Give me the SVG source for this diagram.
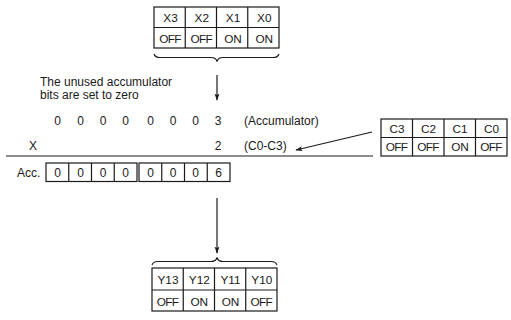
<svg xmlns="http://www.w3.org/2000/svg" width="511" height="320" viewBox="0 0 511 320">
<defs>
<style>
text{font-family:"Liberation Sans",Arial,sans-serif;font-size:12px;fill:#1a1a1a}
.c{text-anchor:middle}
.t{font-size:11.8px;text-anchor:middle}
.o{letter-spacing:-0.7px}
.box{fill:#fff;stroke:#1a1a1a;stroke-width:1.2}
.ln{fill:none;stroke:#1a1a1a;stroke-width:1.2}
.br{fill:none;stroke:#1a1a1a;stroke-width:1.1}
</style>
<marker id="ah" viewBox="0 0 10 10" refX="9" refY="5" markerWidth="7" markerHeight="7" markerUnits="userSpaceOnUse" orient="auto">
<path d="M0,1.5 L10,5 L0,8.5 L2,5 Z" fill="#1a1a1a"/>
</marker>
</defs>
<rect width="511" height="320" fill="#fff"/>

<g id="x-table">
<rect class="box" x="154" y="7" width="125" height="41"/>
<path class="ln" d="M154,27.5H279M185.25,7V48M216.5,7V48M247.75,7V48"/>
<text class="t" x="170.5" y="22">X3</text>
<text class="t" x="201.8" y="22">X2</text>
<text class="t" x="233" y="22">X1</text>
<text class="t" x="264.3" y="22">X0</text>
<text class="t o" x="170" y="43">OFF</text>
<text class="t o" x="201.3" y="43">OFF</text>
<text class="t" x="233" y="43">ON</text>
<text class="t" x="264.3" y="43">ON</text>
<path class="br" d="M154,54 Q155,57.5 160,57.5 L211,57.5 Q216,57.5 217,61.5 Q218,57.5 223,57.5 L273,57.5 Q278,57.5 279,54"/>
</g>

<g id="note">
<text x="40" y="86">The unused accumulator</text>
<text x="40" y="99">bits are set to zero</text>
</g>

<g id="accumulator-row">
<text class="c" x="57.5" y="125">0</text>
<text class="c" x="80.5" y="125">0</text>
<text class="c" x="103" y="125">0</text>
<text class="c" x="125.5" y="125">0</text>
<text class="c" x="150.5" y="125">0</text>
<text class="c" x="173" y="125">0</text>
<text class="c" x="195.5" y="125">0</text>
<text class="c" x="218" y="125">3</text>
<text x="244" y="125">(Accumulator)</text>
</g>

<g id="multiplier-row">
<text x="29" y="150">X</text>
<text class="c" x="218" y="150">2</text>
<text x="244" y="150">(C0-C3)</text>
</g>

<g id="c-table">
<rect class="box" x="381" y="119" width="126" height="37"/>
<path class="ln" d="M381,137.5H507M412.5,119V156M444,119V156M475.5,119V156"/>
<text class="t" x="397" y="132.5">C3</text>
<text class="t" x="428.5" y="132.5">C2</text>
<text class="t" x="460" y="132.5">C1</text>
<text class="t" x="491.5" y="132.5">C0</text>
<text class="t o" x="396.5" y="151">OFF</text>
<text class="t o" x="428" y="151">OFF</text>
<text class="t" x="460" y="151">ON</text>
<text class="t o" x="491" y="151">OFF</text>
</g>

<g id="acc-result">
<text x="17" y="177">Acc.</text>
<rect class="box" x="46" y="163" width="91" height="18.5"/>
<path class="ln" d="M68.75,163V181.5M91.5,163V181.5M114.25,163V181.5"/>
<rect class="box" x="139" y="163" width="91" height="18.5"/>
<path class="ln" d="M161.75,163V181.5M184.5,163V181.5M207.25,163V181.5"/>
<text class="c" x="57.5" y="177">0</text>
<text class="c" x="80.5" y="177">0</text>
<text class="c" x="103" y="177">0</text>
<text class="c" x="125.5" y="177">0</text>
<text class="c" x="150.5" y="177">0</text>
<text class="c" x="173" y="177">0</text>
<text class="c" x="195.5" y="177">0</text>
<text class="c" x="218.5" y="177">6</text>
</g>

<g id="y-table">
<path class="br" d="M152,265 Q153,261.5 158,261.5 L211,261.5 Q216,261.5 217,257.5 Q218,261.5 223,261.5 L271,261.5 Q276,261.5 277,265"/>
<rect class="box" x="152" y="268" width="125" height="43"/>
<path class="ln" d="M152,290H277M183.25,268V311M214.5,268V311M245.75,268V311"/>
<text class="t" x="168" y="284">Y13</text>
<text class="t" x="199.3" y="284">Y12</text>
<text class="t" x="230.5" y="284">Y11</text>
<text class="t" x="261.8" y="284">Y10</text>
<text class="t o" x="167.5" y="305.5">OFF</text>
<text class="t" x="199.3" y="305.5">ON</text>
<text class="t" x="230.5" y="305.5">ON</text>
<text class="t o" x="261.3" y="305.5">OFF</text>
</g>

<g id="connectors">
<line class="ln" x1="217" y1="75" x2="217" y2="100" marker-end="url(#ah)"/>
<line class="ln" x1="6" y1="156" x2="373" y2="156"/>
<line class="ln" x1="372" y1="132" x2="296" y2="150" marker-end="url(#ah)"/>
<line class="ln" x1="217" y1="198" x2="217" y2="253" marker-end="url(#ah)"/>
</g>
</svg>
